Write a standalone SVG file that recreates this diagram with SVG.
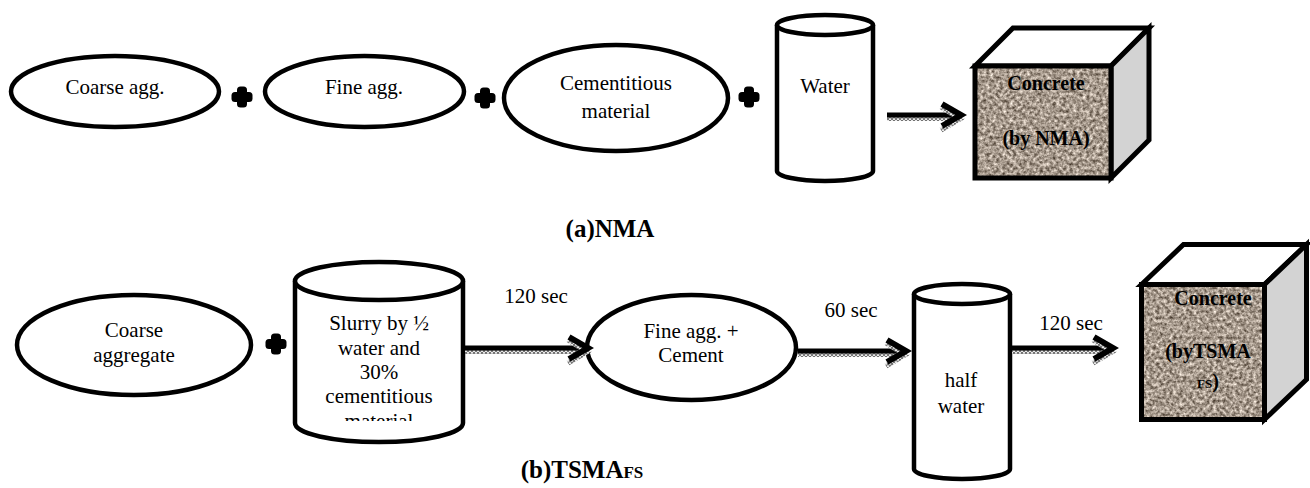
<svg xmlns="http://www.w3.org/2000/svg" xmlns:xlink="http://www.w3.org/1999/xlink" width="1310" height="488" viewBox="0 0 1310 488">
<style>
.shape{fill:#fff;stroke:#000;stroke-width:4.5}
.t{font-family:'Liberation Serif','Times New Roman',Times,serif;font-size:21px;fill:#000;text-anchor:middle}
.b{font-family:'Liberation Serif','Times New Roman',Times,serif;font-weight:bold;fill:#000;text-anchor:middle}
.shaft{stroke:#000;stroke-width:5;fill:none}
.cube{stroke:#000;stroke-width:5;stroke-linejoin:miter}
</style>
<defs>
<pattern id="hatch" width="4" height="4" patternUnits="userSpaceOnUse">
<rect width="4" height="4" fill="#e8e8e8"/>
<path d="M0,4 L2,0 L4,4" stroke="#555" stroke-width="1" fill="none"/>
</pattern>
<filter id="granite" x="0" y="0" width="100%" height="100%" color-interpolation-filters="sRGB">
<feTurbulence type="fractalNoise" baseFrequency="0.3" numOctaves="3" seed="7" result="n"/>
<feColorMatrix in="n" type="matrix" values="1.0 0 0 0 0.15  1.0 0 0 0 0.1  1.0 0 0 0 0.05  0 0 0 0 1" result="c"/>
<feComposite in="c" in2="SourceAlpha" operator="in"/>
</filter>
<g id="plus">
<rect x="-10.5" y="-5" width="21" height="10" rx="3.5"/>
<rect x="-5" y="-10.5" width="10" height="21" rx="3.5"/>
</g>
<g id="head">
<polyline points="-20,-8 -1,4 -20,15" fill="none" stroke="url(#hatch)" stroke-width="5"/>
<polyline points="-19,-11 0,0 -19,11" fill="none" stroke="#000" stroke-width="6" stroke-linejoin="miter"/>
</g>
<clipPath id="slurryClip"><rect x="296" y="290" width="166" height="131"/></clipPath>
</defs>

<!-- (a) NMA -->
<g id="n-coarse-agg">
<ellipse class="shape" cx="115" cy="91.5" rx="104" ry="35.5"/>
<text class="t" x="115" y="94">Coarse agg.</text>
</g>
<g id="n-plus1"><use xlink:href="#plus" x="242" y="97"/></g>
<g id="n-fine-agg">
<ellipse class="shape" cx="364.5" cy="91.5" rx="99.5" ry="35.5"/>
<text class="t" x="364" y="94">Fine agg.</text>
</g>
<g id="n-plus2"><use xlink:href="#plus" x="485" y="98"/></g>
<g id="n-cementitious">
<ellipse class="shape" cx="616" cy="98" rx="112" ry="53"/>
<text class="t" x="616" y="90">Cementitious</text>
<text class="t" x="616" y="118">material</text>
</g>
<g id="n-plus3"><use xlink:href="#plus" x="749" y="97"/></g>
<g id="n-water">
<path class="shape" d="M777,25 L777,171 A48,10 0 0 0 873,171 L873,25"/>
<ellipse class="shape" cx="825" cy="25" rx="48" ry="10"/>
<text class="t" x="825" y="93">Water</text>
</g>
<g id="n-concrete-nma">
<polygon class="cube" fill="#fff" points="975,66 1013,28 1149,28 1111,66"/>
<polygon class="cube" fill="#d3d3d3" points="1111,66 1149,28 1149,140 1111,178"/>
<rect x="975" y="66" width="136" height="112" fill="#a89c8f"/>
<rect x="975" y="66" width="136" height="112" fill="#a89c8f" filter="url(#granite)"/>
<rect x="975" y="66" width="136" height="112" fill="none" class="cube"/>
<text class="b" x="1046" y="90" font-size="20">Concrete</text>
<text class="b" x="1046" y="145" font-size="20">(by NMA)</text>
</g>
<text id="label-a" class="b" x="610" y="237" font-size="25">(a)NMA</text>

<!-- (b) TSMA_FS -->
<g id="n-coarse-aggregate">
<ellipse class="shape" cx="134" cy="345" rx="117" ry="50"/>
<text class="t" x="134" y="337">Coarse</text>
<text class="t" x="134" y="362">aggregate</text>
</g>
<g id="n-plus4"><use xlink:href="#plus" x="276" y="344"/></g>
<g id="n-slurry">
<path class="shape" d="M295,281 L295,423 A84,19 0 0 0 463,423 L463,281"/>
<ellipse class="shape" cx="379" cy="281" rx="84" ry="19"/>
<g clip-path="url(#slurryClip)">
<text class="t" x="379" y="330">Slurry by ½</text>
<text class="t" x="379" y="355">water and</text>
<text class="t" x="379" y="379">30%</text>
<text class="t" x="379" y="403">cementitious</text>
<text class="t" x="379" y="428">material</text>
</g>
</g>
<g id="n-fine-cement">
<ellipse class="shape" cx="691.5" cy="347.5" rx="104.5" ry="52.5"/>
<text class="t" x="691" y="338">Fine agg. +</text>
<text class="t" x="691" y="362">Cement</text>
</g>
<g id="n-half-water">
<path class="shape" d="M914,294 L914,469 A48,10 0 0 0 1010,469 L1010,294"/>
<ellipse class="shape" cx="962" cy="294" rx="48" ry="10"/>
<text class="t" x="961" y="387">half</text>
<text class="t" x="961" y="413">water</text>
</g>
<g id="n-concrete-tsma">
<polygon class="cube" fill="#fff" points="1141.5,284.5 1183.5,244.5 1306.5,244.5 1264.5,284.5"/>
<polygon class="cube" fill="#d3d3d3" points="1264.5,284.5 1306.5,244.5 1306.5,379.5 1264.5,419.5"/>
<rect x="1141.5" y="284.5" width="123" height="135" fill="#a89c8f"/>
<rect x="1141.5" y="284.5" width="123" height="135" fill="#a89c8f" filter="url(#granite)"/>
<rect x="1141.5" y="284.5" width="123" height="135" fill="none" class="cube"/>
<text class="b" x="1213" y="305" font-size="20">Concrete</text>
<text class="b" x="1208" y="358" font-size="20">(byTSMA</text>
<text class="b" x="1208" y="388" font-size="20"><tspan font-size="13">FS</tspan>)</text>
</g>
<text id="label-b" class="b" x="582" y="478" font-size="25" text-anchor="start">(b)TSMA<tspan font-size="17">FS</tspan></text>

<!-- connectors -->
<g id="connectors">
<rect x="887" y="117" width="66" height="4" fill="url(#hatch)"/>
<line class="shaft" x1="887" y1="115" x2="957" y2="115"/>
<use xlink:href="#head" x="961" y="115"/>

<rect x="465" y="350" width="116" height="4" fill="url(#hatch)"/>
<line class="shaft" x1="465" y1="348" x2="584" y2="348"/>
<use xlink:href="#head" x="588" y="348"/>
<text class="t" x="536" y="303">120 sec</text>

<rect x="798" y="353" width="102" height="4" fill="url(#hatch)"/>
<line class="shaft" x1="798" y1="351" x2="902" y2="351"/>
<use xlink:href="#head" x="906" y="351"/>
<text class="t" x="851" y="317">60 sec</text>

<rect x="1012" y="350" width="96" height="4" fill="url(#hatch)"/>
<line class="shaft" x1="1012" y1="348" x2="1109" y2="348"/>
<use xlink:href="#head" x="1113" y="348"/>
<text class="t" x="1071" y="330">120 sec</text>
</g>
</svg>
